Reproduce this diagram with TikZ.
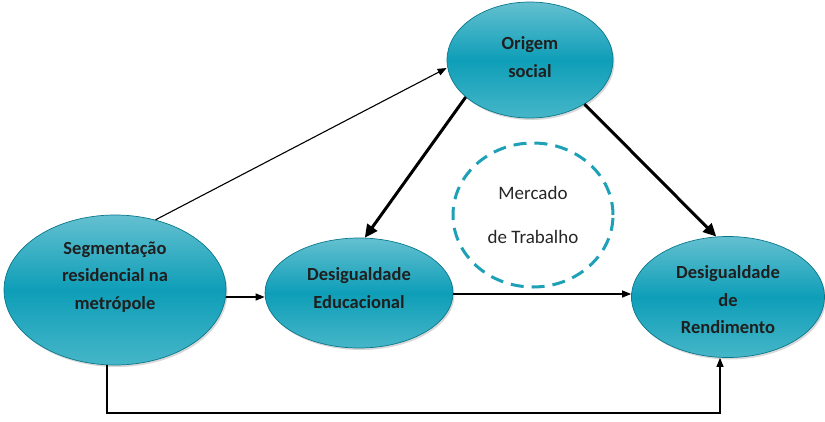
\documentclass[tikz,border=0pt]{standalone}
\usepackage{fontspec}
\setmainfont{Carlito}
\usetikzlibrary{arrows.meta,shapes.geometric,shadows}
\definecolor{tealmid}{RGB}{14,158,184}
\definecolor{teallight}{RGB}{100,192,208}
\definecolor{tealbot}{RGB}{70,182,200}
\definecolor{tealdark}{RGB}{10,120,140}
\definecolor{dashc}{RGB}{30,160,182}
\tikzset{
  bub/.style={ellipse, draw=tealdark, line width=0.7pt, top color=teallight, bottom color=tealbot, middle color=tealmid,
    inner sep=0pt, drop shadow={shadow xshift=1.5pt, shadow yshift=-2pt, fill=black!30}},
  bubtxt/.style={font=\fontsize{18.5}{27.5}\selectfont\bfseries, text=black!88, align=center, inner sep=0pt},
  thin/.style={line width=1.1pt, -{Triangle[length=9pt,width=7pt]}},
  thick/.style={line width=3pt, -{Triangle[length=13pt,width=12pt]}}
}
\begin{document}
\begin{tikzpicture}[x=1pt,y=-1pt]
\useasboundingbox (0,0) rectangle (825,421);
\node[bub, minimum width=166pt, minimum height=116pt] (orig) at (530,60) {};
\node[bub, minimum width=222pt, minimum height=150pt] (seg) at (115,290) {};
\node[bub, minimum width=188pt, minimum height=110pt] (edu) at (359,293) {};
\node[bub, minimum width=193pt, minimum height=121pt] (rend) at (728,297) {};
\node[bubtxt] (origt) at ([yshift=3pt]orig.center) {Origem\\social};
\node[bubtxt] (segt) at ([yshift=13pt]seg.center) {Segmentação\\residencial na\\metrópole};
\node[bubtxt] (edut) at ([yshift=5pt]edu.center) {Desigualdade\\Educacional};
\node[bubtxt] (rendt) at ([yshift=-3pt]rend.center) {Desigualdade\\de\\Rendimento};
\node[ellipse, draw=dashc, line width=3pt, dash pattern=on 13pt off 8pt, minimum width=160pt, minimum height=144pt,
  font=\fontsize{19}{44}\selectfont, text=black!85, align=center] (merc) at (533,215) {Mercado\\de Trabalho};
\coordinate (s1) at (107,413);
\coordinate (s2) at (720,413);
\draw[thin] (seg.60) -- (orig.west|-0,68) ;
\draw[thin] (seg.east|-0,297) -- (edu.west|-0,297);
\draw[thin] (edu.east|-0,294) -- (rend.west|-0,294);
\draw[thin] (seg.south-|s1) -- (s1) -- (s2) -- (rend.south-|s2);
\draw[thick] (orig.210) -- (edu.84);
\draw[thick] (orig.321) -- (rend.101);
\end{tikzpicture}
\end{document}
